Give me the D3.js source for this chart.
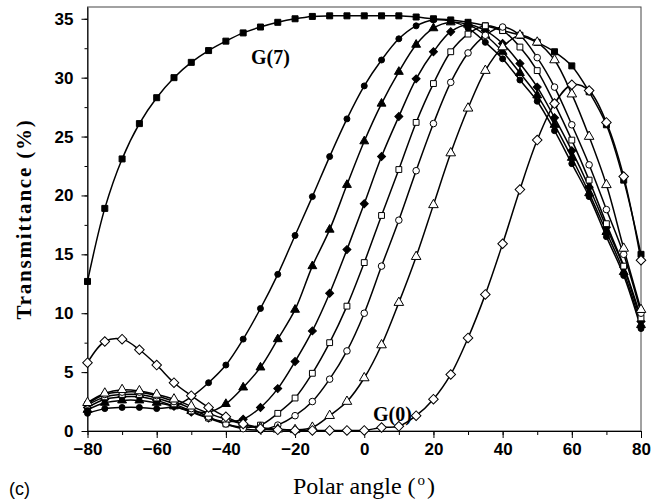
<!DOCTYPE html>
<html><head><meta charset="utf-8">
<script src="https://cdn.jsdelivr.net/npm/d3@7"></script>
<style>body{margin:0;background:#fff}svg{display:block}</style>
</head><body>
<svg id="c" width="667" height="500"></svg>
<script>
const angles = [-80,-75,-70,-65,-60,-55,-50,-45,-40,-35,-30,-25,-20,-15,-10,-5,0,5,10,15,20,25,30,35,40,45,50,55,60,65,70,75,80];
const G7 = [12.7,18.9,23.1,26.1,28.3,30.0,31.3,32.3,33.1,33.8,34.3,34.7,35.0,35.2,35.25,35.25,35.25,35.25,35.25,35.15,35.0,34.9,34.7,34.4,34.0,33.6,33.0,32.2,31.0,28.8,26.0,21.3,15.0];
const G6 = [1.5,1.9,2.0,2.0,1.9,2.1,2.9,4.1,5.6,7.8,10.4,13.3,16.6,19.9,23.3,26.5,29.3,31.5,33.3,34.4,34.9,34.8,34.2,33.0,31.6,29.8,28.0,25.5,22.7,19.9,16.5,13.2,8.7];
const G5 = [1.8,2.4,2.6,2.6,2.4,2.1,1.7,1.6,2.3,3.7,5.4,7.8,10.3,14.0,17.1,20.9,24.6,27.8,30.5,32.8,34.2,34.7,34.5,33.6,32.2,30.4,28.5,26.0,23.2,20.2,16.9,13.5,9.0];
const G4 = [2.0,2.7,2.9,2.9,2.6,2.1,1.6,1.1,0.8,1.0,2.0,3.6,5.9,8.5,11.7,15.4,19.3,23.3,26.7,29.9,32.2,33.9,34.5,34.0,32.9,31.2,29.2,26.6,23.8,20.7,17.3,13.9,9.3];
const G3 = [2.2,2.9,3.1,3.1,2.8,2.3,1.7,1.1,0.6,0.3,0.5,1.5,2.8,4.9,7.5,10.6,14.3,18.3,22.2,26.2,29.5,32.2,33.7,34.4,34.0,32.6,30.6,27.8,24.7,21.3,17.6,14.0,9.6];
const G2 = [2.3,3.1,3.3,3.3,3.0,2.5,1.9,1.2,0.6,0.2,0.1,0.5,1.3,2.5,4.4,6.8,10.0,14.0,17.9,22.1,26.1,29.6,32.1,33.6,34.3,33.6,31.7,29.2,26.0,22.6,18.8,15.0,10.0];
const G1 = [2.4,3.2,3.5,3.4,3.1,2.7,2.1,1.5,1.0,0.6,0.3,0.15,0.1,0.3,1.3,2.5,4.5,7.3,10.9,14.8,19.2,23.6,27.4,30.6,32.6,33.6,33.0,31.5,28.6,25.0,20.9,15.5,10.3];
const G0 = [5.8,7.6,7.8,6.9,5.6,4.1,3.0,2.0,1.2,0.6,0.2,0.1,0.05,0.05,0.05,0.05,0.05,0.3,0.4,1.3,2.7,4.8,7.9,11.6,15.9,20.5,24.7,27.8,29.4,28.9,26.2,21.6,14.5];
const xTicks = [-80,-60,-40,-20,0,20,40,60,80];
const yTicks = [0,5,10,15,20,25,30,35];

const seriesList = [
  {name:"G(7)", values:G7, sym:d3.symbolSquare, size:36, fill:"#000", rot:0},
  {name:"G(6)", values:G6, sym:d3.symbolCircle, size:28, fill:"#000", rot:0},
  {name:"G(5)", values:G5, sym:d3.symbolTriangle, size:34, fill:"#000", rot:0},
  {name:"G(4)", values:G4, sym:d3.symbolSquare, size:32, fill:"#000", rot:45},
  {name:"G(3)", values:G3, sym:d3.symbolSquare, size:34, fill:"#fff", rot:0},
  {name:"G(2)", values:G2, sym:d3.symbolCircle, size:34, fill:"#fff", rot:0},
  {name:"G(1)", values:G1, sym:d3.symbolTriangle, size:40, fill:"#fff", rot:0},
  {name:"G(0)", values:G0, sym:d3.symbolSquare, size:46, fill:"#fff", rot:45}
];

const svg = d3.select("#c");
const m = {l:87.5, r:26, t:7, b:69};
const W = 667, H = 500;
const x = d3.scaleLinear().domain([-80,80]).range([m.l, W-m.r]);
const y = d3.scaleLinear().domain([0,36]).range([H-m.b, m.t]);

// frame
svg.append("rect").attr("x",m.l).attr("y",m.t).attr("width",W-m.r-m.l).attr("height",H-m.b-m.t)
  .attr("fill","none").attr("stroke","#444").attr("stroke-width",1);

const tickFont = "'Liberation Sans', Arial, sans-serif";
// x axis
const xMinor = svg.append("g").attr("transform",`translate(0,${y(0)})`)
  .call(d3.axisBottom(x).tickValues(d3.range(-80,81,10)).tickSize(4).tickFormat(""));
xMinor.select(".domain").remove();
const xa = svg.append("g").attr("transform",`translate(0,${y(0)})`)
  .call(d3.axisBottom(x).tickValues(xTicks).tickSize(7).tickPadding(5).tickSizeOuter(0));
xa.selectAll("text").attr("font-family",tickFont).attr("font-size",17).attr("font-weight","bold").attr("fill","#000");
// y axis
const yMinor = svg.append("g").attr("transform",`translate(${x(-80)},0)`)
  .call(d3.axisLeft(y).tickValues(d3.range(0,36,2.5)).tickSize(3).tickFormat(""));
yMinor.select(".domain").remove();
const ya = svg.append("g").attr("transform",`translate(${x(-80)},0)`)
  .call(d3.axisLeft(y).tickValues(yTicks).tickSize(6).tickPadding(8).tickSizeOuter(0));
ya.selectAll("text").attr("font-family",tickFont).attr("font-size",17).attr("font-weight","bold").attr("fill","#000");
svg.selectAll(".domain").attr("stroke","#000");
svg.selectAll(".tick line").attr("stroke","#000");

// lines
const line = d3.line().x((d,i)=>x(angles[i])).y(d=>y(d)).curve(d3.curveCatmullRom.alpha(0.5));
const plot = svg.append("g");
seriesList.forEach(s=>{
  plot.append("path").datum(s.values).attr("d",line).attr("fill","none").attr("stroke","#000").attr("stroke-width",1.5);
});
seriesList.forEach(s=>{
  const sym = d3.symbol().type(s.sym).size(s.size);
  plot.append("g").selectAll("path").data(s.values).join("path")
    .attr("d",sym).attr("transform",(d,i)=>`translate(${x(angles[i])},${y(d)}) rotate(${s.rot})`)
    .attr("fill",s.fill).attr("stroke","#000").attr("stroke-width",1);
});

// annotations
const serif = "'Liberation Serif','Times New Roman',serif";
svg.append("text").attr("x",251).attr("y",64).attr("font-family",serif).attr("font-size",20).attr("font-weight","bold").text("G(7)");
svg.append("text").attr("x",373).attr("y",421).attr("font-family",serif).attr("font-size",20).attr("font-weight","bold").text("G(0)");

// y title
svg.append("text").attr("transform",`translate(31,${(m.t+H-m.b)/2}) rotate(-90)`).attr("text-anchor","middle")
  .attr("font-family",serif).attr("font-size",21).attr("font-weight","bold").attr("letter-spacing",1.8)
  .text("Transmittance (%)");
// x title
const xt = svg.append("text").attr("x",364).attr("y",494).attr("text-anchor","middle")
  .attr("font-family",serif).attr("font-size",24);
xt.append("tspan").text("Polar angle (");
xt.append("tspan").attr("dx",2).attr("dy",-9).attr("font-size",15).text("o");
xt.append("tspan").attr("dx",2).attr("dy",9).text(")");
svg.append("text").attr("x",9).attr("y",495).attr("font-family",tickFont).attr("font-size",18).text("(c)");
</script>
</body></html>
